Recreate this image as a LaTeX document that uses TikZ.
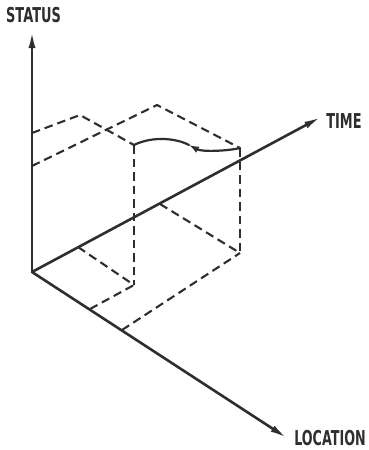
\documentclass[tikz,border=0pt]{standalone}
\usepackage{fontspec}
\usepackage{graphicx}
\setmainfont{DejaVu Sans}
\usetikzlibrary{arrows.meta}
\tikzset{
  axis/.style={color=ink, line width=2.6pt, -{Latex[length=17pt,width=7pt]}},
  guide/.style={color=ink, line width=2.1pt, line cap=butt, dash pattern=on 8.5pt off 5pt},
  path/.style={color=ink, line width=2.2pt},
  axislabel/.style={color=ink, inner sep=0pt, font=\bfseries\fontsize{20.5}{20.5}\selectfont},
}
\begin{document}
\begin{tikzpicture}[yscale=-1, x=1pt, y=1pt, line join=round, line cap=round]
% Colour definitions
\definecolor{ink}{rgb}{0.18,0.18,0.18}
% End of colour definitions
\useasboundingbox (0,0) rectangle (368,450);
% axes
\coordinate (O) at (32,272);
\coordinate (statusTip) at (32,31);
\coordinate (timeTip) at (321,117);
\coordinate (locTip) at (287,438);
\draw[axis] (O) -- (statusTip);
\draw[axis] (O) -- (timeTip);
\draw[axis] (O) -- (locTip);
\node[axislabel] (statusLabel) at (33.5,15.5) {\scalebox{0.63}[1]{STATUS}};
\node[axislabel] (timeLabel) at (344,121.5) {\scalebox{0.63}[1]{TIME}};
\node[axislabel] (locLabel) at (330,438.5) {\scalebox{0.62}[1]{LOCATION}};
% marks on the axes
\coordinate (s1) at (32,133);
\coordinate (s2) at (32,166);
\coordinate (t1) at (78,247);
\coordinate (t2) at (160,204);
\coordinate (l1) at (90,309);
\coordinate (l2) at (122,330);
% corners of the two boxes
\coordinate (A) at (134,285);
\coordinate (Atop) at (134,145);
\coordinate (B) at (240,253);
\coordinate (Btop) at (240,148);
\coordinate (apex1) at (80,115);
\coordinate (apex2) at (157,105);
% dashed projections
\draw[guide] (s1) -- (apex1) -- (Atop);
\draw[guide] (s2) -- (apex2) -- (Btop);
\draw[guide] (Atop) -- (A);
\draw[guide] (Btop) -- (B);
\draw[guide] (t1) -- (A);
\draw[guide] (l1) -- (A);
\draw[guide] (t2) -- (B);
\draw[guide] (l2) -- (B);
% change of status
\coordinate (mid) at (189,145);
\draw[path, -{Latex[length=10pt,width=7pt]}] (Btop) .. controls (228,151) and (202,152) .. (mid);
\draw[path] (mid) .. controls (176,138) and (152,136) .. (Atop);
\end{tikzpicture}
\end{document}
